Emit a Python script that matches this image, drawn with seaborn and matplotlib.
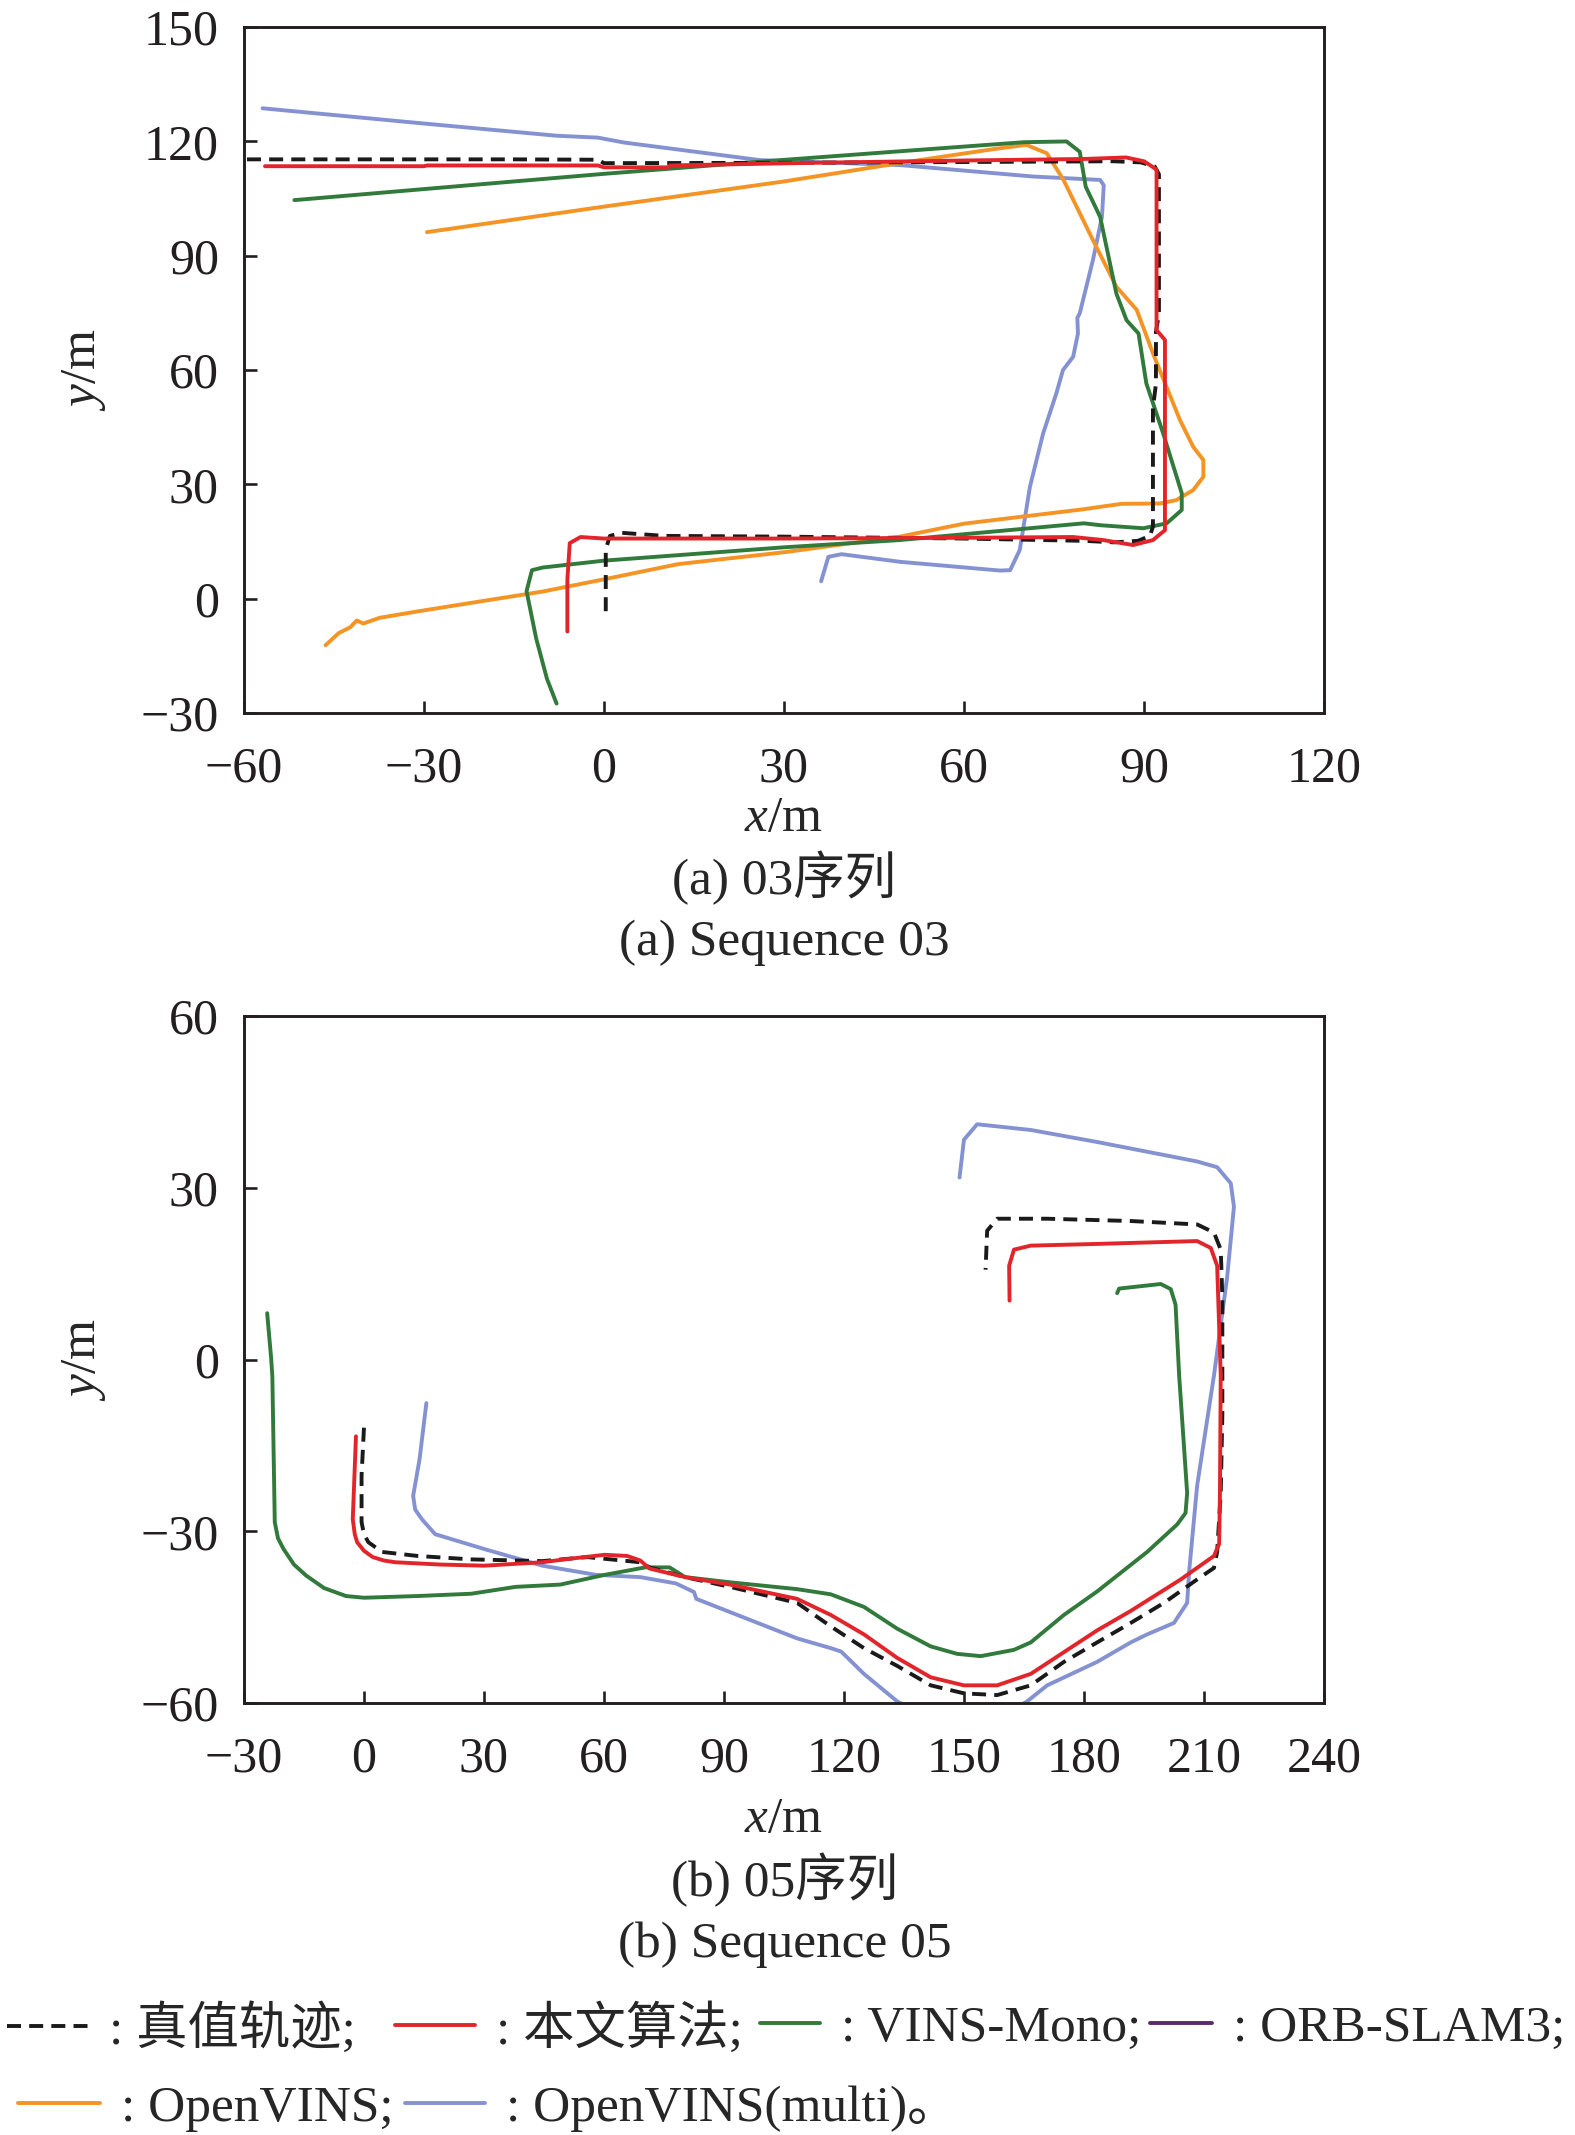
import matplotlib
matplotlib.use("Agg")
import matplotlib.pyplot as plt
from matplotlib.lines import Line2D
import seaborn as sns

# sequence 03 trajectories (x, y in metres)
gt03_x = [-59.5, -30, -15, -1, 0, 30, 60, 85, 89.5, 91.8, 92.5, 92.5, 92, 92, 91.5, 91.5, 91, 89, 85, 80, 60, 30, 10, 3, 1, 0.3, 0.3]
gt03_y = [115.3, 115.3, 115.3, 115.2, 114.3, 114.4, 114.6, 114.8, 114.5, 113.4, 111.4, 74.8, 70, 56.4, 50, 18.9, 16.5, 15.2, 14.8, 15.2, 15.8, 16.3, 16.5, 17.3, 16.5, 13, -5]

ours03_x = [-56.5, -30, -29.5, -1, 0, 10.7, 11, 35, 60, 80, 87, 90, 91, 92.1, 92.1, 93.5, 93.5, 91.5, 88.2, 83.2, 78.2, 60, 30, 0, -3.9, -5.7, -6.1, -6.1]
ours03_y = [113.5, 113.5, 113.7, 113.7, 113.2, 113.2, 113.7, 114.4, 115, 115.4, 115.8, 114.8, 113.8, 112.6, 70.5, 67.9, 18, 15.4, 14.1, 15.4, 16.2, 16, 15.8, 15.8, 16.2, 14.6, 5, -8.6]

vins03_x = [-51.6, -30, 0, 26, 50, 70, 77.1, 79.3, 80.3, 82.7, 85.4, 87.1, 89.1, 90.4, 93.2, 96.3, 96.3, 93.8, 89.9, 82.7, 80, 49.3, 30, 0, -10.2, -12, -12.9, -11.3, -9.5, -7.9]
vins03_y = [104.6, 107.5, 111.5, 114.7, 117.5, 119.8, 120, 117.3, 108.1, 100.2, 80.1, 73.1, 69.6, 56.5, 43.4, 27.7, 23.3, 19.8, 18.5, 19.3, 19.8, 15.4, 13.5, 10, 8.2, 7.5, 2, -10.4, -21, -27.5]

ovins03_x = [-29.5, 0, 30, 50, 65, 70.4, 73.8, 76.6, 81.5, 85.4, 88.8, 91.5, 96, 98.2, 99.9, 99.9, 98.2, 95.4, 92.7, 86.2, 80, 60, 49.3, 30, 12.4, 0, -10.2, -30.6, -37.4, -40.1, -41.2, -42.3, -44.2, -46.4]
ovins03_y = [96.2, 102.9, 109.5, 114.5, 118, 119.1, 116.9, 109.9, 94.1, 81.9, 75.8, 64.4, 46.9, 39.9, 36.4, 32, 28.5, 25.9, 25, 24.9, 23.5, 19.7, 16.3, 12.2, 9.1, 5.1, 1.9, -3.2, -5, -6.5, -5.7, -7.5, -9, -12.2]

multi03_x = [-56.9, -30, -7.9, -1, 3.4, 26, 49.3, 71.5, 82.7, 83.3, 83, 81.5, 79.3, 78.9, 79, 78.2, 76.5, 75.4, 73.2, 71, 69.3, 67.7, 66, 49.3, 39.6, 37.4, 36.2]
multi03_y = [128.7, 124.7, 121.5, 121, 119.7, 115.1, 113.8, 110.8, 109.9, 108.5, 100.2, 88.9, 74.9, 73.7, 69.6, 63.5, 60, 53.9, 43.4, 29.4, 12.8, 7.5, 7.4, 9.7, 11.7, 11, 4.6]

# sequence 05 trajectories
gt05_x = [0, -0.6, -0.6, 0, 1.1, 4.5, 13.4, 26.8, 44.6, 55.8, 69.1, 71.4, 80.3, 91.5, 108.3, 116.7, 125, 133.3, 141.7, 150, 158.3, 166.7, 175, 183.3, 191.7, 200, 208.3, 212.5, 213.3, 214.2, 214.6, 214.6, 214.2, 212.5, 208.3, 191.7, 170.8, 158.3, 155.8, 155.4]
gt05_y = [-11.9, -20.3, -28.4, -30.5, -31.9, -33.6, -34.3, -34.9, -35.2, -34.5, -35.4, -36.3, -38, -39.7, -42.5, -46.6, -50.4, -53.5, -56.9, -58.3, -58.6, -56.9, -52.8, -49.4, -46, -42.5, -38.4, -36.4, -33.6, -23.3, -9.6, 10.9, 19.2, 22.2, 23.6, 24.2, 24.6, 24.6, 22.5, 15.7]

ours05_x = [-2, -2.8, -2.3, -1.7, 0, 2.2, 5, 7.8, 19, 30.1, 44.6, 51.3, 60.2, 65.8, 69.1, 71.4, 80.3, 91.5, 108.3, 116.7, 125, 133.3, 141.7, 150, 158.3, 166.7, 183.3, 191.7, 204.2, 212.5, 213.8, 214, 214.2, 213.3, 211.7, 208.3, 183.3, 166.7, 162.5, 161.3, 161.4]
ours05_y = [-13.4, -27.9, -30.5, -31.9, -33.4, -34.5, -35.1, -35.4, -35.8, -36, -35.4, -34.8, -34.1, -34.3, -35.1, -36.5, -38, -39.3, -41.8, -44.6, -48, -52.1, -55.5, -56.9, -56.9, -54.9, -47.3, -43.9, -38.4, -34.3, -32.2, -23.3, -2.8, 16.4, 19.5, 20.7, 20.2, 19.9, 19.2, 16.4, 10.3]

vins05_x = [-24.2, -23.2, -22.9, -22.3, -21.5, -20.1, -17.5, -14.5, -10, -4.5, 0, 13.4, 26.8, 37.9, 49.1, 60.2, 70.3, 76.4, 80.3, 91.5, 108.3, 116.7, 125, 133.3, 141.7, 148.3, 154.2, 162.5, 166.7, 175, 183.3, 195.8, 203.3, 205.4, 205.8, 203.8, 202.9, 201.7, 199.2, 188.8, 188.3]
vins05_y = [8.1, 0.2, -3, -28.4, -31.2, -33.1, -35.8, -37.7, -39.9, -41.3, -41.6, -41.3, -40.9, -39.7, -39.3, -37.6, -36.3, -36.3, -38, -38.9, -40.1, -41, -43.2, -47, -50.1, -51.4, -51.8, -50.7, -49.4, -44.6, -40.5, -33.6, -28.8, -26.8, -23.3, -2.8, 9.6, 12.3, 13.2, 12.4, 11.6]

multi05_x = [15.6, 13.9, 12.3, 12.8, 14.5, 17.8, 30.1, 44.6, 58, 69.1, 78, 82.5, 83.1, 91.5, 108.3, 116.7, 119.3, 125, 133.3, 150, 165.8, 170.8, 183.3, 191.7, 195.8, 202.5, 205.8, 206.3, 208.3, 212.5, 215.8, 217.5, 216.7, 213.3, 208.3, 183.3, 166.7, 153.3, 150, 148.9]
multi05_y = [-7.6, -17.4, -23.8, -26.2, -27.9, -30.5, -33.1, -36, -37.6, -38, -39.1, -40.6, -41.8, -44.1, -48.7, -50.4, -51, -54.9, -59.7, -66, -59.7, -56.9, -52.8, -49.4, -48, -46, -42.5, -37, -22, -2.8, 14.4, 26.7, 30.8, 33.6, 34.6, 38, 40.1, 41.1, 38.4, 31.8]

methods = ["真值轨迹", "本文算法", "VINS-Mono", "ORB-SLAM3", "OpenVINS", "OpenVINS(multi)"]
colors = {"真值轨迹": "#1a1a1a", "本文算法": "#e2252b", "VINS-Mono": "#317a3c",
          "ORB-SLAM3": "#5a2a6c", "OpenVINS": "#f39425", "OpenVINS(multi)": "#8592d2"}

seq03 = {"真值轨迹": (gt03_x, gt03_y), "本文算法": (ours03_x, ours03_y), "VINS-Mono": (vins03_x, vins03_y),
         "OpenVINS": (ovins03_x, ovins03_y), "OpenVINS(multi)": (multi03_x, multi03_y)}
seq05 = {"真值轨迹": (gt05_x, gt05_y), "本文算法": (ours05_x, ours05_y), "VINS-Mono": (vins05_x, vins05_y),
         "OpenVINS(multi)": (multi05_x, multi05_y)}

sns.set_theme(style="ticks")
plt.rcParams["font.family"] = ["Liberation Serif", "Noto Sans CJK SC"]
plt.rcParams["mathtext.fontset"] = "custom"
plt.rcParams["mathtext.it"] = "Liberation Serif:italic"
plt.rcParams["mathtext.rm"] = "Liberation Serif"
plt.rcParams["axes.unicode_minus"] = True

LW = 2.8
DASH = (0, (3.6, 2.1))
FS = 37
EM = FS * 100 / 72  # font size in pixels

fig = plt.figure(figsize=(15.75, 21.35), dpi=100)
ax1 = fig.add_axes([0.1549, 0.6660, 0.6857, 0.3213])
ax2 = fig.add_axes([0.1549, 0.2023, 0.6857, 0.3218])

def draw(ax, traj):
    for name in ["OpenVINS(multi)", "OpenVINS", "VINS-Mono", "真值轨迹", "本文算法"]:
        if name not in traj:
            continue
        x, y = traj[name]
        ls = DASH if name == "真值轨迹" else "-"
        sns.lineplot(x=x, y=y, ax=ax, sort=False, estimator=None, color=colors[name],
                     lw=LW, linestyle=ls)

def style(ax, xlim, ylim, xticks, yticks, xlab_y):
    ax.set_xlim(*xlim)
    ax.set_ylim(*ylim)
    ax.set_xticks(xticks)
    ax.set_yticks(yticks)
    ax.tick_params(direction="in", length=9, width=1.9, labelsize=36, pad=18,
                   top=False, right=False, colors="#231f20")
    ax.tick_params(axis="x", pad=24)
    for sp in ax.spines.values():
        sp.set_linewidth(2.1)
        sp.set_color("#231f20")
    ax.set_xlabel(r"$x$/m", fontsize=FS, va="center")
    ax.set_ylabel(r"$y$/m", fontsize=FS, va="center")
    ax.xaxis.set_label_coords(0.5, xlab_y)
    ax.yaxis.set_label_coords(-0.148, 0.5)

draw(ax1, seq03)
style(ax1, (-60, 120), (-30, 150), range(-60, 121, 30), range(-30, 151, 30), -0.154)
draw(ax2, seq05)
style(ax2, (-30, 240), (-60, 60), range(-30, 241, 30), range(-60, 61, 30), -0.170)

fig.text(0.498, 0.589, "(a) 03序列", ha="center", va="center", fontsize=FS)
fig.text(0.498, 0.5584, "(a) Sequence 03", ha="center", va="center", fontsize=FS)
fig.text(0.498, 0.1196, "(b) 05序列", ha="center", va="center", fontsize=FS)
fig.text(0.498, 0.0892, "(b) Sequence 05", ha="center", va="center", fontsize=FS)

# legend entries laid out in two text rows: (handle start px, row y, handle length px)
legend_pos = {"真值轨迹": (7, 0.0498, 81), "本文算法": (395, 0.0498, 80),
              "VINS-Mono": (760, 0.0498, 60), "ORB-SLAM3": (1150, 0.0498, 62),
              "OpenVINS": (18, 0.0123, 82), "OpenVINS(multi)": (405, 0.0123, 80)}
for m in methods:
    x0, y0, hl = legend_pos[m]
    h = Line2D([], [], color=colors[m], lw=LW, linestyle=DASH if m == "真值轨迹" else "-")
    end = "。" if m == "OpenVINS(multi)" else ";"
    fig.legend([h], [": " + m + end], loc="center left", bbox_to_anchor=(x0 / 1575, y0),
               frameon=False, fontsize=FS, handlelength=hl / EM, handletextpad=0.4,
               borderpad=0, borderaxespad=0)

fig.savefig("out.png", dpi=100)
